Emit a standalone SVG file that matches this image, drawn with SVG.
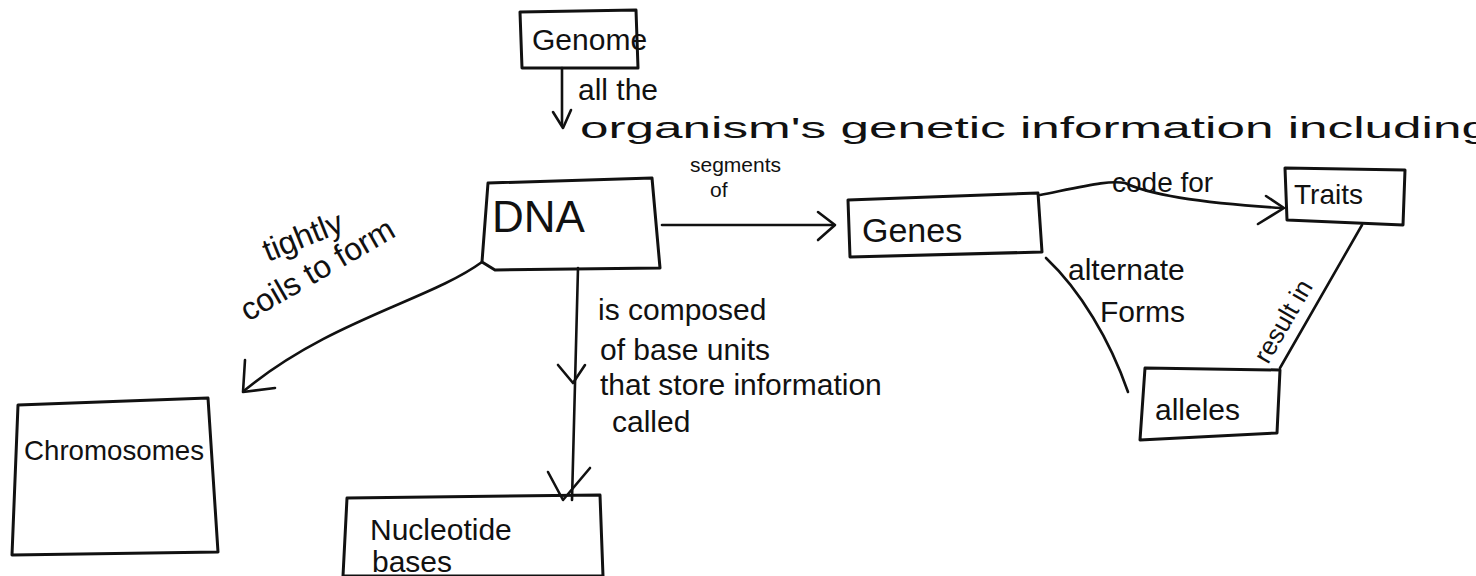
<svg xmlns="http://www.w3.org/2000/svg" width="1476" height="576" viewBox="0 0 1476 576">
<defs>
<style>
.box{fill:none;stroke:#111;stroke-width:3;stroke-linejoin:round;stroke-linecap:round}
.ln{fill:none;stroke:#111;stroke-width:2.6;stroke-linecap:round;stroke-linejoin:round}
.t{font-family:"Liberation Sans",Arial,sans-serif;fill:#111}
</style>
</defs>
<rect width="1476" height="576" fill="#fff"/>
<g id="connectors">
<path class="ln" d="M562 68 L562 124"/>
<path class="ln" d="M553 112 L563 128 L571 110"/>
<path class="ln" d="M662 225 L832 225"/>
<path class="ln" d="M818 212 L835 225 L818 240"/>
<path class="ln" d="M1040 195 C1090 185 1110 180 1125 183 C1150 195 1200 203 1282 208"/>
<path class="ln" d="M1266 196 L1284 208 L1258 224"/>
<path class="ln" d="M1046 258 C1080 290 1110 340 1128 392"/>
<path class="ln" d="M1362 225 L1280 368"/>
<path class="ln" d="M482 262 C430 300 330 320 245 390"/>
<path class="ln" d="M245 360 L243 392 L275 388"/>
<path class="ln" d="M578 268 L572 500"/>
<path class="ln" d="M558 365 L573 383 L585 365"/>
<path class="ln" d="M548 472 L563 500 L590 468"/>
</g>
<g id="genome">
<path class="box" d="M520 12 L636 10 L638 68 L522 68 Z"/>
<text class="t" x="532" y="50" font-size="30">Genome</text>
</g>
<g id="dna">
<path class="box" d="M488 183 L652 178 L660 268 L495 270 L482 262 Z"/>
<text class="t" x="492" y="232" font-size="44">DNA</text>
</g>
<g id="genes">
<path class="box" d="M848 200 L1038 193 L1042 252 L850 257 Z"/>
<text class="t" x="862" y="242" font-size="34">Genes</text>
</g>
<g id="traits">
<path class="box" d="M1285 168 L1405 170 L1403 225 L1287 220 Z"/>
<text class="t" x="1294" y="204" font-size="28">Traits</text>
</g>
<g id="alleles">
<path class="box" d="M1145 368 L1280 370 L1277 433 L1140 440 Z"/>
<text class="t" x="1155" y="420" font-size="30">alleles</text>
</g>
<g id="chromosomes">
<path class="box" d="M18 405 L208 398 L218 552 L12 555 Z"/>
<text class="t" x="24" y="460" font-size="28" textLength="180" lengthAdjust="spacingAndGlyphs">Chromosomes</text>
</g>
<g id="nucleotide">
<path class="box" d="M347 498 L600 495 L603 576 L343 576 Z"/>
<text class="t" x="370" y="540" font-size="30">Nucleotide</text>
<text class="t" x="372" y="572" font-size="30">bases</text>
</g>
<g id="labels">
<text class="t" x="578" y="100" font-size="30">all the</text>
<text class="t" x="580" y="138" font-size="30" textLength="910" lengthAdjust="spacingAndGlyphs">organism's genetic information including</text>
<text class="t" x="690" y="172" font-size="21">segments</text>
<text class="t" x="710" y="197" font-size="21">of</text>
<text class="t" x="1112" y="192" font-size="28">code for</text>
<text class="t" x="1068" y="280" font-size="30">alternate</text>
<text class="t" x="1100" y="322" font-size="30">Forms</text>
<text class="t" font-size="26" transform="translate(1268 365) rotate(-60)">result in</text>
<text class="t" font-size="32" transform="translate(268 262) rotate(-22)">tightly</text>
<text class="t" font-size="32" transform="translate(248 322) rotate(-30)">coils to form</text>
<text class="t" x="598" y="320" font-size="30">is composed</text>
<text class="t" x="600" y="360" font-size="30">of base units</text>
<text class="t" x="600" y="395" font-size="30">that store information</text>
<text class="t" x="612" y="432" font-size="30">called</text>
</g>
</svg>
